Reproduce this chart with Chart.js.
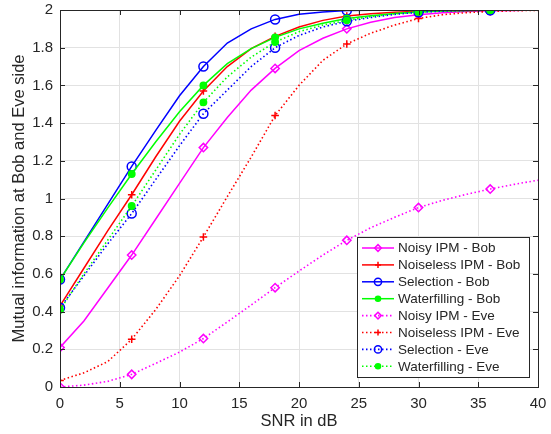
<!DOCTYPE html>
<html>
<head>
<meta charset="utf-8">
<script src="https://cdn.jsdelivr.net/npm/chart.js@4.4.0/dist/chart.umd.min.js"></script>
<style>
  html, body { margin: 0; padding: 0; background: #fff; }
  #wrap { width: 551px; height: 434px; }
</style>
</head>
<body>
<div id="wrap"><canvas id="myChart"></canvas></div>
<script>
/* globals Chart:false */
// SNR in dB, curves sampled every 2 dB, markers every 6 dB
var snr = [0, 2, 4, 6, 8, 10, 12, 14, 16, 18, 20, 22, 24, 26, 28, 30, 32, 34, 36, 38, 40];

var noisyBob     = [0.21, 0.35, 0.525, 0.70, 0.89, 1.08, 1.27, 1.43, 1.575, 1.69, 1.785, 1.85, 1.90, 1.935, 1.96, 1.975, 1.985, 1.992, 1.996, 1.998, 2.0];
var noiselessBob = [0.43, 0.63, 0.83, 1.02, 1.22, 1.41, 1.57, 1.70, 1.795, 1.86, 1.91, 1.945, 1.968, 1.98, 1.988, 1.993, 1.996, 1.998, 1.999, 2.0, 2.0];
var selectionBob = [0.57, 0.77, 0.97, 1.17, 1.36, 1.545, 1.70, 1.825, 1.90, 1.95, 1.978, 1.99, 1.997, 1.999, 2.0, 2.0, 2.0, 2.0, 2.0, 2.0, 2.0];
var waterBob     = [0.57, 0.765, 0.95, 1.13, 1.30, 1.46, 1.60, 1.715, 1.795, 1.855, 1.90, 1.93, 1.955, 1.97, 1.982, 1.99, 1.995, 1.998, 1.999, 2.0, 2.0];
var noisyEve     = [0.0, 0.01, 0.03, 0.067, 0.125, 0.185, 0.257, 0.345, 0.435, 0.527, 0.615, 0.70, 0.778, 0.845, 0.90, 0.952, 0.99, 1.022, 1.05, 1.075, 1.097];
var noiselessEve = [0.035, 0.075, 0.135, 0.253, 0.41, 0.59, 0.796, 1.01, 1.22, 1.44, 1.60, 1.733, 1.82, 1.877, 1.92, 1.955, 1.975, 1.986, 1.992, 1.996, 1.998];
var selectionEve = [0.42, 0.59, 0.76, 0.92, 1.10, 1.28, 1.45, 1.575, 1.70, 1.80, 1.865, 1.91, 1.94, 1.96, 1.977, 1.988, 1.994, 1.997, 1.999, 2.0, 2.0];
var waterEve     = [0.41, 0.60, 0.78, 0.96, 1.15, 1.34, 1.51, 1.645, 1.75, 1.83, 1.885, 1.92, 1.945, 1.965, 1.98, 1.99, 1.995, 1.998, 1.999, 2.0, 2.0];

var labels = [
  'Noisy IPM - Bob', 'Noiseless IPM - Bob', 'Selection - Bob', 'Waterfilling - Bob',
  'Noisy IPM - Eve', 'Noiseless IPM - Eve', 'Selection - Eve', 'Waterfilling - Eve'
];
var yTicks = [0, 0.2, 0.4, 0.6, 0.8, 1, 1.2, 1.4, 1.6, 1.8, 2];

var FONT = '"Liberation Sans", Arial, Helvetica, sans-serif';
var AXIS = '#262626';

function toXY(vals) {
  return vals.map(function (v, i) { return { x: snr[i], y: v }; });
}

// marker style per curve family
var styles = [
  { color: '#ff00ff', point: 'rectRot', r: 4.2, fill: 'transparent' },
  { color: '#ff0000', point: 'cross',   r: 3.8, fill: 'transparent' },
  { color: '#0000ff', point: 'circle',  r: 4.5, fill: 'transparent' },
  { color: '#00ff00', point: 'circle',  r: 3.2, fill: '#00ff00' }
];

var series = [noisyBob, noiselessBob, selectionBob, waterBob, noisyEve, noiselessEve, selectionEve, waterEve];

var datasets = series.map(function (vals, i) {
  var s = styles[i % 4];
  var eve = i >= 4;
  return {
    label: labels[i],
    data: toXY(vals),
    borderColor: s.color,
    backgroundColor: s.color,
    borderWidth: eve ? 1.6 : 1.5,
    borderDash: eve ? [1.5, 2.5] : [],
    pointStyle: s.point,
    pointRadius: function (ctx) {
      var x = snr[ctx.dataIndex];
      return (x % 6 === 0 && x <= 36) ? s.r : 0;
    },
    pointHoverRadius: 0,
    pointBorderColor: s.color,
    pointBackgroundColor: s.fill,
    pointBorderWidth: 1.5,
    tension: 0,
    fill: false,
    order: 8 - i,
    _s: s,
    _eve: eve
  };
});

// box around the axes with inward ticks, MATLAB style
var framePlugin = {
  id: 'frame',
  afterDatasetsDraw: function (chart) {
    var a = chart.chartArea, c = chart.ctx, L = 5;
    c.save();
    c.strokeStyle = AXIS;
    c.lineWidth = 1;
    c.beginPath();
    chart.scales.x.ticks.forEach(function (t) {
      var px = Math.round(chart.scales.x.getPixelForValue(t.value)) + 0.5;
      c.moveTo(px, a.bottom); c.lineTo(px, a.bottom - L);
      c.moveTo(px, a.top); c.lineTo(px, a.top + L);
    });
    chart.scales.y.ticks.forEach(function (t) {
      var py = Math.round(chart.scales.y.getPixelForValue(t.value)) + 0.5;
      c.moveTo(a.left, py); c.lineTo(a.left + L, py);
      c.moveTo(a.right, py); c.lineTo(a.right - L, py);
    });
    c.stroke();
    c.strokeRect(Math.round(a.left) + 0.5, Math.round(a.top) + 0.5,
                 Math.round(a.right - a.left), Math.round(a.bottom - a.top));
    c.restore();
  }
};

// legend in the lower right corner: line sample + marker + label
var legendPlugin = {
  id: 'boxLegend',
  afterDraw: function (chart) {
    var a = chart.chartArea, c = chart.ctx;
    var w = 172, rowH = 16.9, h = 140;
    var x0 = a.right - 9 - w, y0 = a.bottom - 10 - h;
    c.save();
    c.fillStyle = '#fff';
    c.fillRect(x0, y0, w, h);
    c.strokeStyle = AXIS;
    c.lineWidth = 1;
    c.strokeRect(Math.round(x0) + 0.5, Math.round(y0) + 0.5, w, h);
    c.font = '13.5px ' + FONT;
    c.textBaseline = 'middle';
    c.textAlign = 'left';
    chart.data.datasets.forEach(function (ds, i) {
      var cy = y0 + 11 + i * rowH;
      var lx0 = x0 + 5, lx1 = x0 + 37;
      c.strokeStyle = ds.borderColor;
      c.lineWidth = ds.borderWidth;
      c.setLineDash(ds.borderDash);
      c.beginPath();
      c.moveTo(lx0, cy); c.lineTo(lx1, cy);
      c.stroke();
      c.setLineDash([]);
      c.fillStyle = ds._s.fill;
      c.lineWidth = 1.5;
      Chart.helpers.drawPoint(c, {
        pointStyle: ds._s.point,
        radius: ds._s.r * 0.8,
        borderWidth: 1.5,
        rotation: 0
      }, (lx0 + lx1) / 2, cy);
      c.fillStyle = AXIS;
      c.fillText(ds.label, x0 + 41, cy + 0.5);
    });
    c.restore();
  }
};

var ctx = document.getElementById('myChart');

var myChart = new Chart(ctx, {
  type: 'line',
  data: { datasets: datasets },
  options: {
    responsive: true,
    maintainAspectRatio: false,
    animation: false,
    events: [],
    layout: { padding: { top: 10, right: 13, left: 0, bottom: 0 } },
    plugins: {
      legend: { display: false },
      tooltip: { enabled: false }
    },
    scales: {
      x: {
        type: 'linear',
        min: 0,
        max: 40,
        ticks: {
          stepSize: 5,
          color: AXIS,
          padding: 8,
          maxRotation: 0,
          font: { family: FONT, size: 15 }
        },
        grid: { color: '#e2e2e2', drawTicks: false, lineWidth: 1 },
        border: { display: true, color: AXIS },
        title: {
          display: true,
          text: 'SNR in dB',
          color: AXIS,
          font: { family: FONT, size: 16.5 },
          padding: { top: 0, bottom: 3 }
        },
        afterFit: function (scale) {
          scale.height = 47;
          scale.paddingLeft = 0;
          scale.paddingRight = 0;
        }
      },
      y: {
        type: 'linear',
        min: 0,
        max: 2,
        afterBuildTicks: function (scale) {
          scale.ticks = yTicks.map(function (v) { return { value: v }; });
        },
        ticks: {
          color: AXIS,
          padding: 7,
          font: { family: FONT, size: 15 },
          callback: function (v) { return String(Math.round(v * 10) / 10); }
        },
        grid: { color: '#e2e2e2', drawTicks: false, lineWidth: 1 },
        border: { display: true, color: AXIS },
        title: {
          display: true,
          text: 'Mutual information at Bob and Eve side',
          color: AXIS,
          font: { family: FONT, size: 16.5 },
          padding: { top: 10, bottom: 0 }
        },
        afterFit: function (scale) {
          scale.width = 60;
          scale.paddingTop = 0;
          scale.paddingBottom = 0;
        }
      }
    }
  },
  plugins: [framePlugin, legendPlugin]
});
</script>
</body>
</html>
